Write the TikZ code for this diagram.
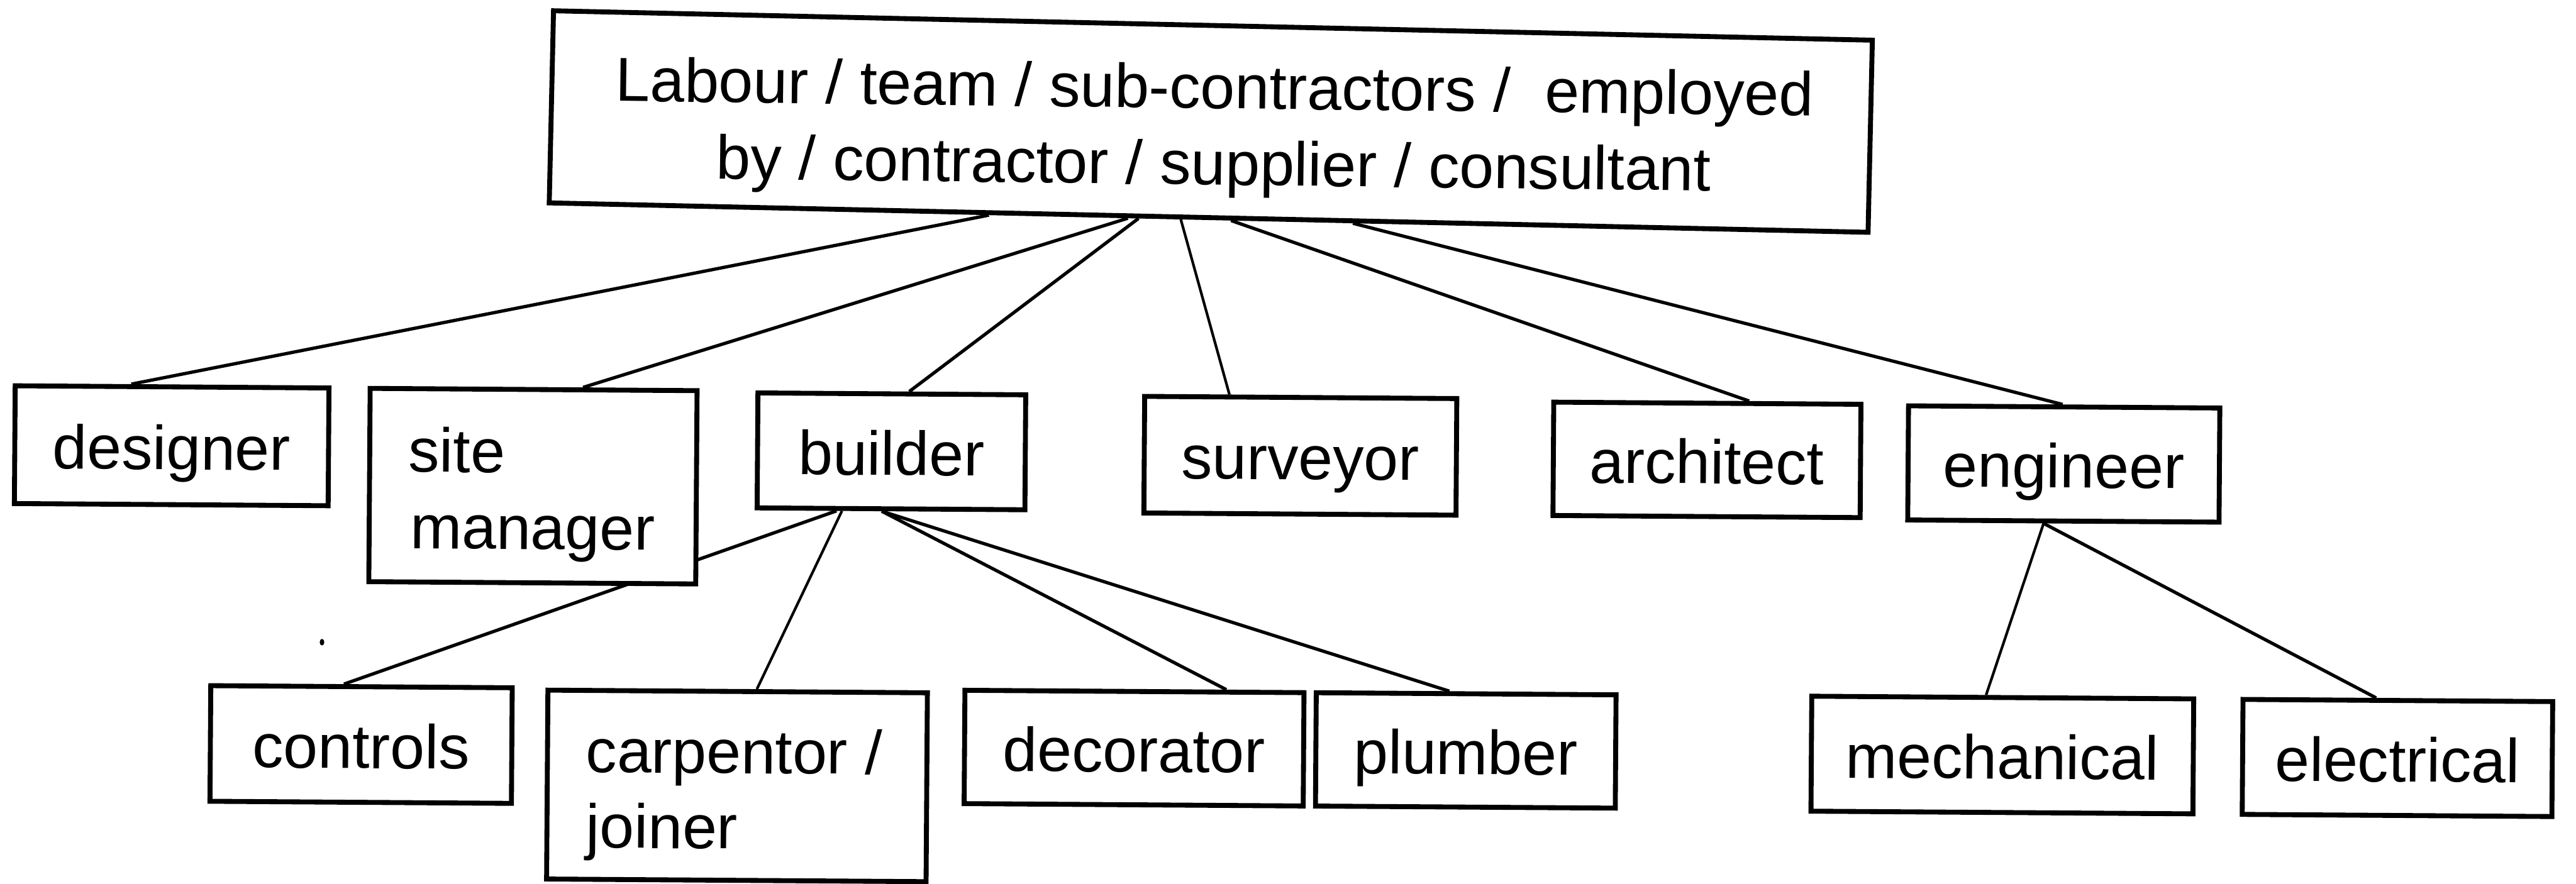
\documentclass[tikz,border=0pt]{standalone}
\usepackage{fontspec}
\setmainfont{Liberation Sans}
\usetikzlibrary{calc,backgrounds}
\begin{document}
\begin{tikzpicture}[x=1pt,y=-1pt,
  frame/.style={draw=black,line width=3pt,fill=white,rectangle,inner sep=0pt,rotate=-0.4},
  box/.style={frame,font=\fontsize{37.7}{46.6}\selectfont,text height=29pt,text depth=0pt},
  txt/.style={inner sep=0pt,font=\fontsize{37.7}{46.6}\selectfont,rotate=-0.4},
  link/.style={draw=black,line width=2pt},
  thinlink/.style={draw=black,line width=1.6pt}]
\useasboundingbox (0,0) rectangle (1568,538);

% top level
\node[frame,rotate=-0.88,minimum width=803pt,minimum height=117pt] (top) at (737,74) {};
\node[txt,rotate=-0.3,align=center] (topText) at ($(top.center)+(2,5.5)$)
  {Labour / team / sub-contractors /\ \ employed\\by / contractor / supplier / consultant};

% second level
\node[box,minimum width=191pt,minimum height=71.7pt] (designer) at (104.5,271.4) {designer};
\node[frame,minimum width=199pt,minimum height=117.7pt] (site) at (324.4,296) {};
\node[txt,anchor=base west] (siteA) at (248.5,287.3) {site};
\node[txt,anchor=base west] (siteB) at (249.5,333.9) {manager};
\node[box,minimum width=163pt,minimum height=70pt] (builder) at (542.6,274.8) {builder};
\node[box,minimum width=190pt,minimum height=71pt] (surveyor) at (791.5,277.5) {surveyor};
\node[box,minimum width=187pt,minimum height=69pt] (architect) at (1039,280) {architect};
\node[box,minimum width=189.5pt,minimum height=69.5pt] (engineer) at (1256.2,282.5) {engineer};

% third level
\node[box,minimum width=183.5pt,minimum height=70.4pt] (controls) at (219.8,453.3) {controls};
\node[frame,minimum width=231pt,minimum height=115pt] (carpentor) at (448.6,478.5) {};
\node[txt,anchor=base west] (carpA) at (356.5,470.2) {carpentor /};
\node[txt,anchor=base west] (carpB) at (356.5,516.2) {joiner};
\node[box,minimum width=206.4pt,minimum height=69pt] (decorator) at (690.3,455.5) {decorator};
\node[box,minimum width=182.5pt,minimum height=69pt] (plumber) at (892.2,456.9) {plumber};
\node[box,minimum width=232.5pt,minimum height=70pt] (mechanical) at (1218.8,459.7) {mechanical};
\node[box,minimum width=188.5pt,minimum height=70pt] (electrical) at (1459.3,461.5) {electrical};

% speck
\fill[black] (196,391) ellipse[x radius=1.4pt,y radius=2pt];

\begin{scope}[on background layer]
  % from the top box
  \draw[link] ($(top.south west)!0.334!(top.south east)$) -- ($(designer.north west)!0.372!(designer.north east)$);
  \draw[link] ($(top.south west)!0.439!(top.south east)$) -- ($(site.north west)!0.649!(site.north east)$);
  \draw[link] ($(top.south west)!0.447!(top.south east)$) -- ($(builder.north west)!0.564!(builder.north east)$);
  \draw[thinlink] ($(top.south west)!0.479!(top.south east)$) -- ($(surveyor.north west)!0.275!(surveyor.north east)$);
  \draw[link] ($(top.south west)!0.517!(top.south east)$) -- ($(architect.north west)!0.634!(architect.north east)$);
  \draw[link] ($(top.south west)!0.609!(top.south east)$) -- ($(engineer.north west)!0.495!(engineer.north east)$);
  % from the builder
  \draw[link] ($(builder.south west)!0.30!(builder.south east)$) -- ($(controls.north west)!0.4425!(controls.north east)$);
  \draw[thinlink] ($(builder.south west)!0.32!(builder.south east)$) -- ($(carpentor.north west)!0.55!(carpentor.north east)$);
  \draw[link] ($(builder.south west)!0.466!(builder.south east)$) -- ($(decorator.north west)!0.767!(decorator.north east)$);
  \draw[link] ($(builder.south west)!0.466!(builder.south east)$) -- ($(plumber.north west)!0.445!(plumber.north east)$);
  % from the engineer
  \draw[thinlink] ($(engineer.south west)!0.4375!(engineer.south east)$) -- ($(mechanical.north west)!0.457!(mechanical.north east)$);
  \draw[link] ($(engineer.south west)!0.4375!(engineer.south east)$) -- ($(electrical.north west)!0.431!(electrical.north east)$);
\end{scope}
\end{tikzpicture}
\end{document}
